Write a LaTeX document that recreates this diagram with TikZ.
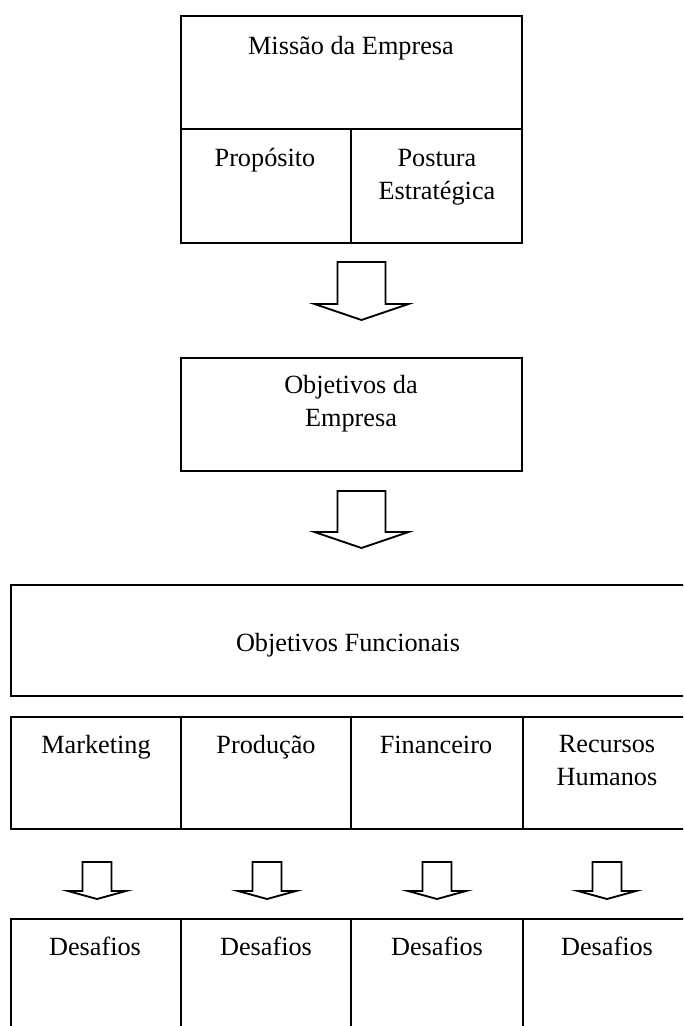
\documentclass[tikz,border=0pt]{standalone}
\usepackage{fontspec}
\setmainfont{Liberation Serif}
\usetikzlibrary{fit}
% hollow block arrow: centre x, shaft top, shoulder y, tip y, shaft half width, head half width
\newcommand\BlockArrow[6]{%
  \draw[blk] (#1-#5,#2) -- (#1+#5,#2) -- (#1+#5,#3) -- (#1+#6,#3) -- (#1,#4)
    -- (#1-#6,#3) -- (#1-#5,#3) -- cycle;}
\begin{document}
\begin{tikzpicture}[x=0.75pt,y=-0.75pt,
  frame/.style={draw=black, line width=1.4pt, inner sep=0pt},
  lbl/.style={font=\fontsize{19.7}{24.4}\selectfont, anchor=base, inner sep=0pt, align=center},
  blk/.style={draw=black, line width=1.4pt, fill=white, line join=miter}]
\useasboundingbox (0,0) rectangle (683,1026);
\clip (0,0) rectangle (683,1026);

% mission block (two-line labels are placed by the baseline of their last line)
\node[frame, fit={(181,16) (522,129)}] (missao) {};
\node[frame, fit={(181,129) (351,243)}] (proposito) {};
\node[frame, fit={(351,129) (522,243)}] (postura) {};
\node[lbl] (tmissao) at (351,54) {Missão da Empresa};
\node[lbl] (tprop) at (265,166.7) {Propósito};
\node[lbl] (tpost) at (437,199.3) {Postura\\Estratégica};

\BlockArrow{361.5}{262}{304}{320}{24}{47}

% company objectives
\node[frame, fit={(181,358) (522,471)}] (objemp) {};
\node[lbl] (tobj) at (351,426) {Objetivos da\\Empresa};

\BlockArrow{361.5}{491}{532}{548}{24}{47}

% functional objectives
\node[frame, fit={(11,585) (700,696)}] (func) {};
\node[lbl] (tfunc) at (348,651.7) {Objetivos Funcionais};

\node[frame, fit={(11,717) (181,829)}] (mkt) {};
\node[frame, fit={(181,717) (351,829)}] (prod) {};
\node[frame, fit={(351,717) (523,829)}] (fin) {};
\node[frame, fit={(523,717) (693,829)}] (rh) {};
\node[lbl] (tmkt) at (96,753.3) {Marketing};
\node[lbl] (tprod) at (266,753.3) {Produção};
\node[lbl] (tfin) at (436,753.3) {Financeiro};
\node[lbl] (trh) at (607,785.5) {Recursos\\Humanos};

\foreach \cx in {97,267,437,607} {\BlockArrow{\cx}{862}{891}{899}{14.5}{29}}

% challenges
\node[frame, fit={(11,919) (181,1040)}] (d1) {};
\node[frame, fit={(181,919) (351,1040)}] (d2) {};
\node[frame, fit={(351,919) (523,1040)}] (d3) {};
\node[frame, fit={(523,919) (693,1040)}] (d4) {};
\node[lbl] (td1) at (95,955) {Desafios};
\node[lbl] (td2) at (266,955) {Desafios};
\node[lbl] (td3) at (437,955) {Desafios};
\node[lbl] (td4) at (607,955) {Desafios};
\end{tikzpicture}
\end{document}
